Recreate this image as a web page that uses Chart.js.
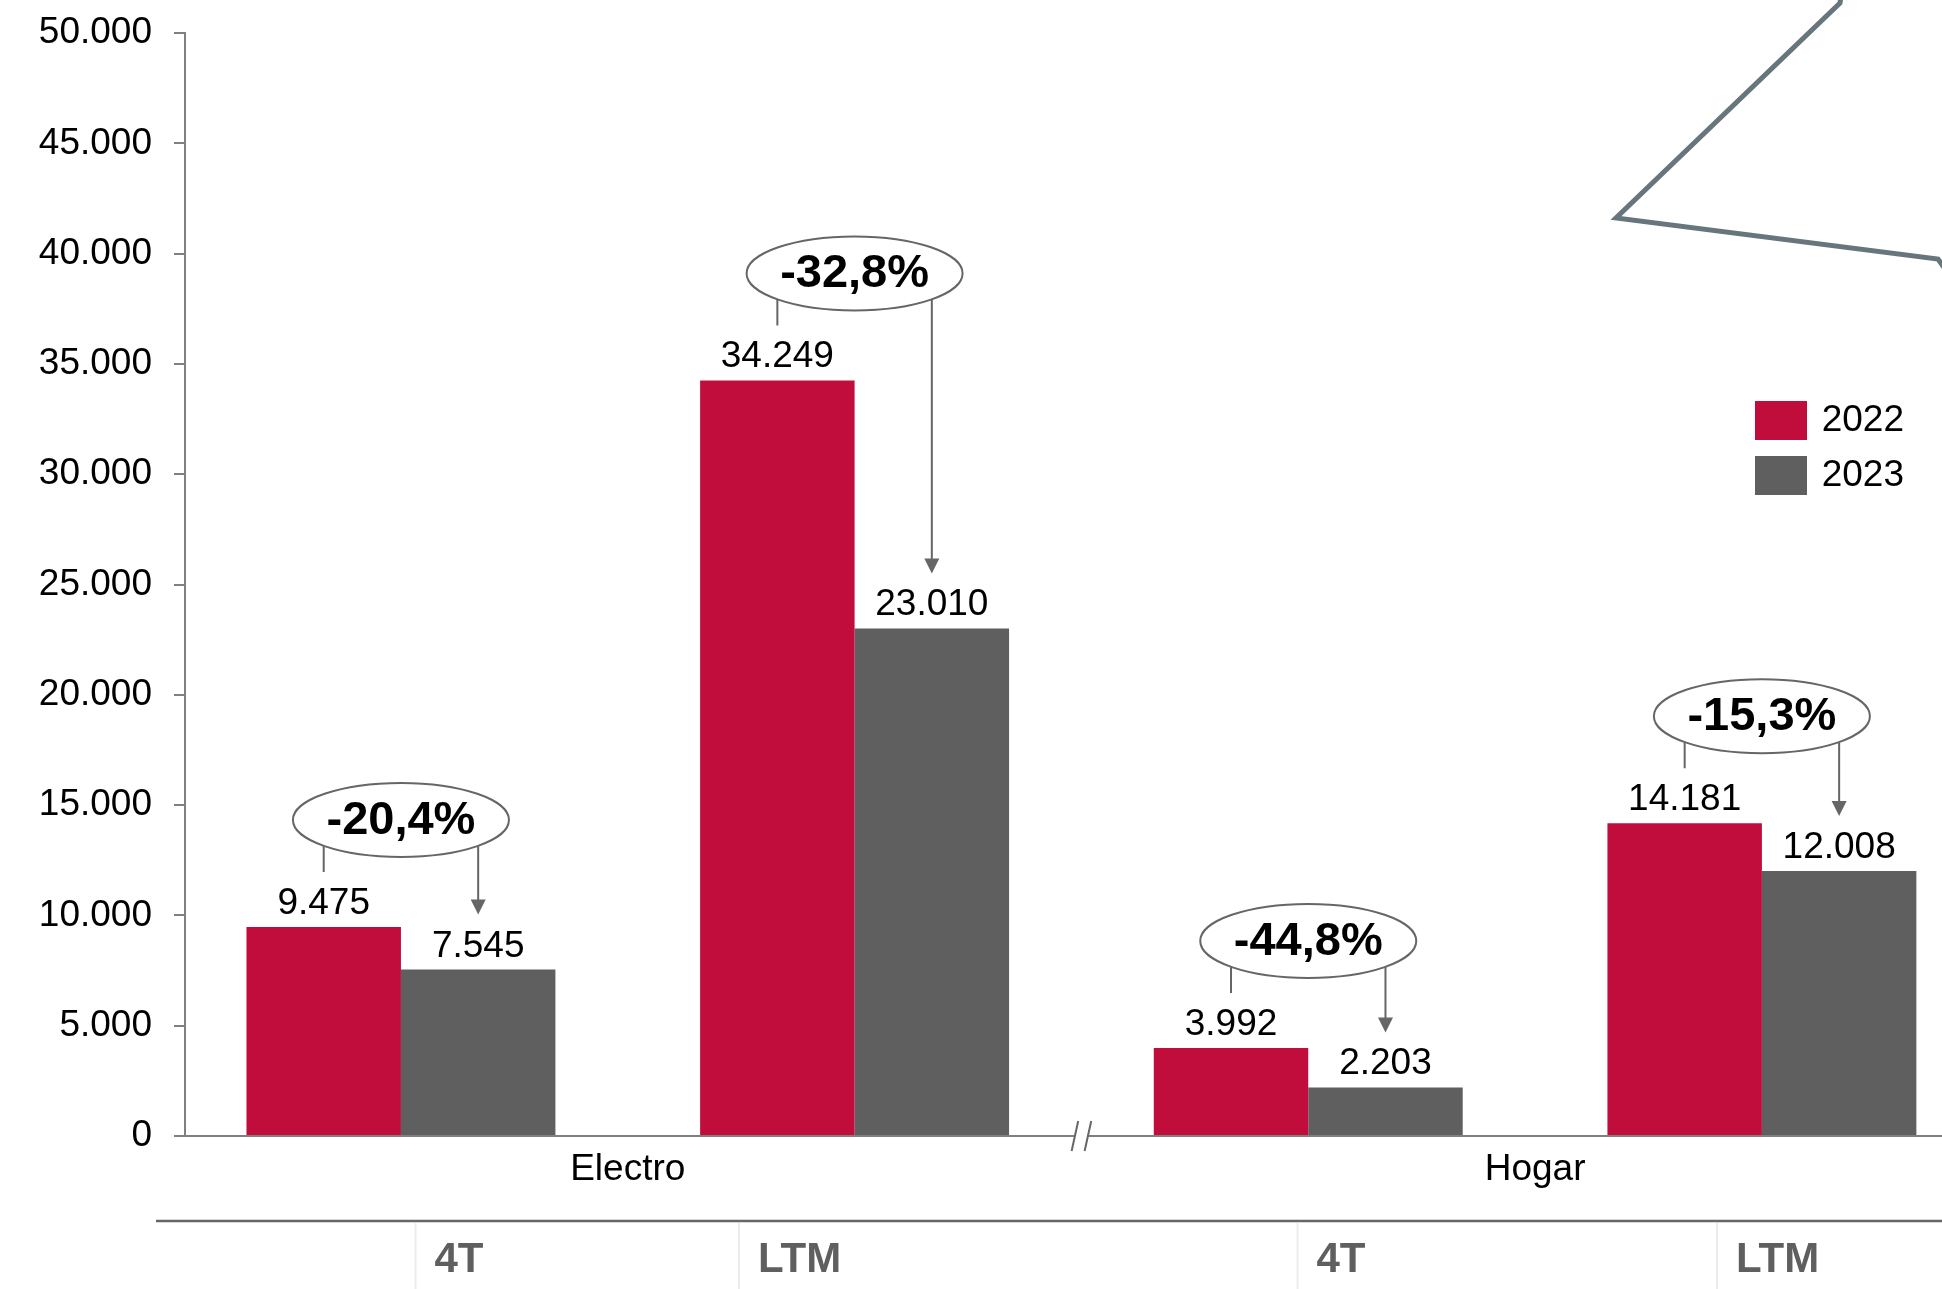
<!DOCTYPE html>
<html lang="es">
<head>
<meta charset="utf-8">
<title>Ventas Electro y Hogar</title>
<script src="https://cdn.jsdelivr.net/npm/chart.js@4.4.1/dist/chart.umd.min.js"></script>
<style>
  html, body { margin: 0; padding: 0; background: #fff; overflow: hidden; }
  #wrap { width: 1942px; height: 1289px; position: relative; }
</style>
</head>
<body>
<div id="wrap"><canvas id="ventas_chart"></canvas></div>
<script>
// datos
const grupos = ["Electro", "Hogar"];
const periodos = ["4T", "LTM", "4T", "LTM"];
const anios = ["2022", "2023"];
const ventas2022 = [9475, 34249, 3992, 14181];
const ventas2023 = [7545, 23010, 2203, 12008];
const variaciones = [-20.4, -32.8, -44.8, -15.3];
const yMax = 50000;
const yPaso = 5000;

const ROJO = "#C00D3C";
const GRIS = "#5F5F5F";
const LINEA = "#666666";
const FUENTE = "'Liberation Sans', Arial, Helvetica, sans-serif";

Chart.defaults.font.family = FUENTE;
Chart.defaults.color = "#000";

const fmtMiles = v => String(v).replace(/\B(?=(\d{3})+(?!\d))/g, ".");
const fmtPct = v => v.toFixed(1).replace(".", ",") + "%";

// etiquetas de valor, globos de variación y flechas
const anotaciones = {
  id: "anotaciones",
  afterDatasetsDraw(chart) {
    const ctx = chart.ctx;
    const b22 = chart.getDatasetMeta(0).data;
    const b23 = chart.getDatasetMeta(1).data;
    ctx.save();
    ctx.textAlign = "center";

    ctx.font = "37px " + FUENTE;
    ctx.fillStyle = "#000";
    ctx.textBaseline = "alphabetic";
    b22.forEach((bar, i) => {
      ctx.fillText(fmtMiles(ventas2022[i]), bar.x, bar.y - 13);
      ctx.fillText(fmtMiles(ventas2023[i]), b23[i].x, b23[i].y - 13);
    });

    variaciones.forEach((pct, i) => {
      const a = b22[i], b = b23[i];
      const cx = (a.x + b.x) / 2;
      const cy = a.y - 107;
      const tip = b.y - 55;

      ctx.strokeStyle = LINEA;
      ctx.lineWidth = 2;
      ctx.beginPath();
      ctx.moveTo(a.x, cy);
      ctx.lineTo(a.x, a.y - 55);
      ctx.moveTo(b.x, cy);
      ctx.lineTo(b.x, tip - 14);
      ctx.stroke();

      ctx.fillStyle = LINEA;
      ctx.beginPath();
      ctx.moveTo(b.x - 7.5, tip - 15);
      ctx.lineTo(b.x + 7.5, tip - 15);
      ctx.lineTo(b.x, tip);
      ctx.closePath();
      ctx.fill();

      ctx.beginPath();
      ctx.ellipse(cx, cy, 108, 37, 0, 0, Math.PI * 2);
      ctx.fillStyle = "#fff";
      ctx.fill();
      ctx.stroke();

      ctx.font = "bold 47px " + FUENTE;
      ctx.fillStyle = "#000";
      ctx.textBaseline = "middle";
      ctx.fillText(fmtPct(pct), cx, cy + 1);
    });
    ctx.restore();
  }
};

// corte del eje, tabla inferior y trazo decorativo
const extras = {
  id: "extras",
  afterDraw(chart) {
    const ctx = chart.ctx;
    const x = chart.scales.x;
    const yEje = chart.chartArea.bottom;
    ctx.save();

    // marca de corte entre Electro y Hogar
    const xc = x.getPixelForValue(1.5);
    ctx.fillStyle = "#fff";
    ctx.fillRect(xc - 6.5, yEje - 3, 13, 6);
    ctx.strokeStyle = LINEA;
    ctx.lineWidth = 2;
    ctx.beginPath();
    [xc - 6.5, xc + 6.5].forEach(xs => {
      ctx.moveTo(xs + 3.3, yEje - 15);
      ctx.lineTo(xs - 3.3, yEje + 15);
    });
    ctx.stroke();

    // tabla de periodos
    ctx.strokeStyle = LINEA;
    ctx.lineWidth = 2.5;
    ctx.beginPath();
    ctx.moveTo(156, 1221);
    ctx.lineTo(chart.width, 1221);
    ctx.stroke();

    const columnas = [415.5, 739, 1297.5, 1717];
    ctx.strokeStyle = "#ececec";
    ctx.lineWidth = 2;
    ctx.font = "bold 42px " + FUENTE;
    ctx.fillStyle = GRIS;
    ctx.textAlign = "left";
    ctx.textBaseline = "alphabetic";
    columnas.forEach((cx, i) => {
      ctx.beginPath();
      ctx.moveTo(cx, 1223);
      ctx.lineTo(cx, chart.height);
      ctx.stroke();
      ctx.fillText(periodos[i], cx + 19, 1272);
    });

    // trazo gris de la esquina superior derecha
    ctx.strokeStyle = "#67757C";
    ctx.lineWidth = 5;
    ctx.lineJoin = "miter";
    ctx.beginPath();
    ctx.moveTo(1842, -10);
    ctx.lineTo(1840, 3);
    ctx.lineTo(1616, 218);
    ctx.lineTo(1938, 259);
    ctx.lineTo(1950, 276);
    ctx.stroke();

    ctx.restore();
  }
};

// la leyenda va dentro del área del gráfico, a la derecha
const leyendaDentro = {
  id: "leyendaDentro",
  afterLayout(chart) {
    const lg = chart.legend;
    const h = lg.height;
    lg.left = 1739;
    lg.top = 385;
    lg.right = 1904;
    lg.bottom = lg.top + h;
  }
};

const ctx = document.getElementById("ventas_chart").getContext("2d");
new Chart(ctx, {
  type: "bar",
  data: {
    datasets: [
      {
        label: anios[0],
        data: ventas2022.map((v, i) => ({ x: i, y: v })),
        backgroundColor: ROJO,
        borderWidth: 0,
        categoryPercentage: 0.681,
        barPercentage: 1
      },
      {
        label: anios[1],
        data: ventas2023.map((v, i) => ({ x: i, y: v })),
        backgroundColor: GRIS,
        borderWidth: 0,
        categoryPercentage: 0.681,
        barPercentage: 1
      }
    ]
  },
  options: {
    responsive: true,
    maintainAspectRatio: false,
    animation: false,
    layout: { padding: { top: 33, left: 0, right: 0, bottom: 0 } },
    plugins: {
      tooltip: { enabled: false },
      legend: {
        position: "chartArea",
        align: "start",
        labels: {
          boxWidth: 52,
          boxHeight: 39,
          padding: 16,
          color: "#000",
          textAlign: "right",
          font: { size: 37 }
        }
      }
    },
    scales: {
      x: {
        type: "linear",
        min: -0.476,
        max: 3.397,
        offset: false,
        grid: { display: false, drawTicks: false },
        border: { display: true, color: "#808080", width: 2 },
        afterBuildTicks: scale => {
          scale.ticks = grupos.map((g, i) => ({ value: i * 2 + 0.5 }));
        },
        afterFit: scale => { scale.height = 153; },
        ticks: {
          padding: 12,
          maxRotation: 0,
          autoSkip: false,
          color: "#000",
          font: { size: 37 },
          callback: value => grupos[Math.floor(value / 2)]
        }
      },
      y: {
        min: 0,
        max: yMax,
        afterFit: scale => {
          scale.width = 185;
          scale.paddingTop = 0;
          scale.paddingBottom = 0;
        },
        grid: {
          drawOnChartArea: false,
          drawTicks: true,
          tickLength: 11,
          color: "#808080",
          lineWidth: 2
        },
        border: { display: true, color: "#808080", width: 2 },
        ticks: {
          stepSize: yPaso,
          padding: 22,
          color: "#000",
          font: { size: 37 },
          callback: value => fmtMiles(value)
        }
      }
    }
  },
  plugins: [anotaciones, extras, leyendaDentro]
});
</script>
</body>
</html>
